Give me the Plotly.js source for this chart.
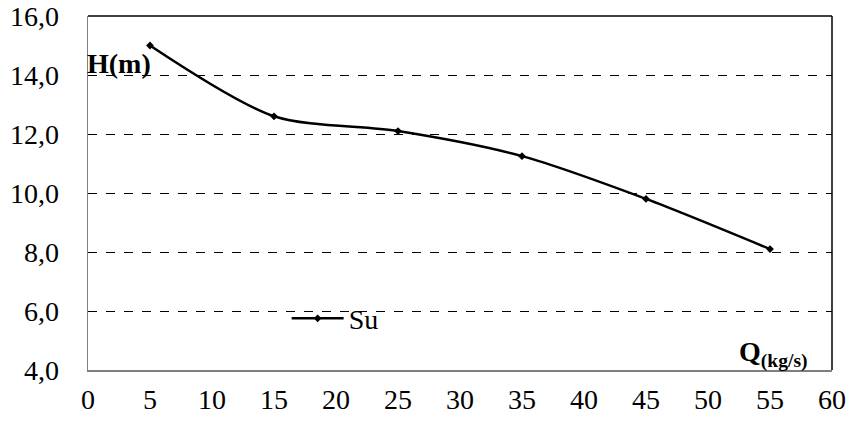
<!DOCTYPE html>
<html>
<head>
<meta charset="utf-8">
<script src="https://cdn.plot.ly/plotly-3.0.1.min.js"></script>
<style>html,body{margin:0;padding:0;background:#fff;}#chart{width:856px;height:423px;}</style>
</head>
<body>
<div id="chart"></div>
<script>
const flowQ = [5, 15, 25, 35, 45, 55];
const headH = [15.0, 12.6, 12.1, 11.25, 9.8, 8.1];
const seriesName = 'Su';
const yTicks = [4, 6, 8, 10, 12, 14, 16];
const xTicks = [0, 5, 10, 15, 20, 25, 30, 35, 40, 45, 50, 55, 60];

const font = 'Times New Roman';

const trace = {
  x: flowQ, y: headH, name: seriesName, type: 'scatter', mode: 'lines+markers',
  line: {color: '#000', width: 2.5, shape: 'spline', smoothing: 0.8},
  marker: {symbol: 'diamond', size: 6, color: '#000'}
};

const layout = {
  width: 856, height: 423,
  margin: {l: 88, r: 24, t: 16, b: 53},
  paper_bgcolor: '#fff', plot_bgcolor: '#fff',
  separators: ',.',
  font: {family: font, color: '#000', size: 28},
  showlegend: true,
  legend: {x: 0.267, y: 0.145, xanchor: 'left', yanchor: 'middle', bgcolor: 'rgba(0,0,0,0)',
           font: {family: font, size: 28, color: '#000'}, itemwidth: 52, tracegroupgap: 0},
  xaxis: {range: [0, 60], tickvals: xTicks, showgrid: false, zeroline: false,
          showline: true, linecolor: '#7f7f7f', linewidth: 1.5, ticks: '',
          ticklabelstandoff: 4,
          tickfont: {family: font, size: 28, color: '#000'}, fixedrange: true},
  yaxis: {range: [4, 16], tickvals: yTicks, tickformat: '.1f', showgrid: true,
          gridcolor: '#000', griddash: 'dash', gridwidth: 1, zeroline: false,
          showline: true, linecolor: '#7f7f7f', linewidth: 1.5, ticks: '',
          ticklabelstandoff: 22,
          tickfont: {family: font, size: 28, color: '#000'}, fixedrange: true},
  shapes: [
    {type: 'line', xref: 'paper', yref: 'paper', x0: 0, x1: 1, y0: 1, y1: 1, line: {color: '#000', width: 1.5}},
    {type: 'line', xref: 'paper', yref: 'paper', x0: 1, x1: 1, y0: 0, y1: 1, line: {color: '#000', width: 1.5}}
  ],
  annotations: [
    {xref: 'paper', yref: 'paper', x: -0.004, y: 0.865, xanchor: 'left', yanchor: 'middle', showarrow: false,
     text: '<b>H(m)</b>', font: {family: font, size: 28, color: '#000'}},
    {xref: 'paper', yref: 'paper', x: 0.97, y: 0.045, xanchor: 'right', yanchor: 'middle', showarrow: false,
     text: '<b>Q<sub>(kg/s)</sub></b>', font: {family: font, size: 28, color: '#000'}}
  ]
};

Plotly.newPlot('chart', [trace], layout, {displayModeBar: false, staticPlot: true});
</script>
</body>
</html>
